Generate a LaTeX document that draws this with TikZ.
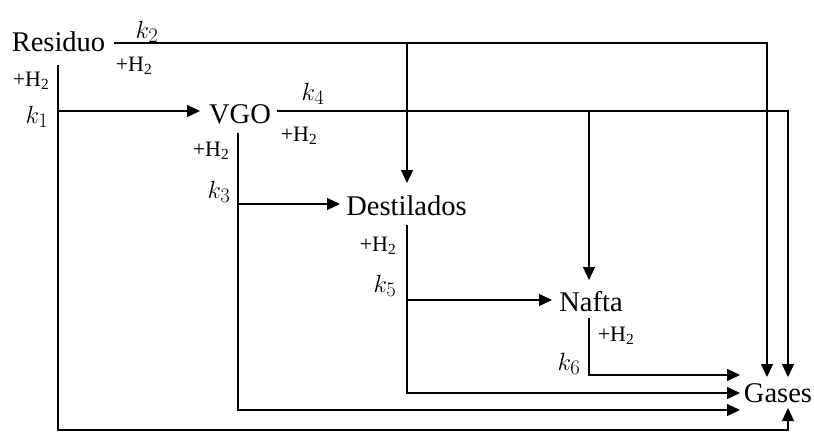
\documentclass[tikz,border=0pt]{standalone}
\usepackage{fontspec}
\setmainfont{Liberation Serif}
\usetikzlibrary{arrows.meta}
\begin{document}
\begin{tikzpicture}[x=1pt,y=-1pt,line width=1.2pt,
  arr/.style={-{Triangle[length=13pt,width=12pt]}},
  big/.style={font=\fontsize{28.5}{32}\selectfont,inner sep=0,anchor=base},
  hh/.style={font=\fontsize{22}{24}\selectfont,inner sep=0,anchor=base},
  kk/.style={font=\fontsize{28}{30}\selectfont,inner sep=0,anchor=base}]
\useasboundingbox (0,0) rectangle (814,432);
% species
\node[big] (res) at (58.5,51) {Residuo};
\node[big] (vgo) at (240,123) {VGO};
\node[big] (dest) at (406.5,215) {Destilados};
\node[big] (naf) at (591,311) {Nafta};
\node[big] (gas) at (778,402) {Gases};
% labels
\node[kk] (k2) at (147,38) {$k_2$};
\node[hh] (h2a) at (134,71) {+H\textsubscript{2}};
\node[hh] (h1) at (31,86) {+H\textsubscript{2}};
\node[kk] (k1) at (37,123) {$k_1$};
\node[kk] (k4) at (313,100) {$k_4$};
\node[hh] (h4) at (299,141) {+H\textsubscript{2}};
\node[hh] (h3) at (211,156) {+H\textsubscript{2}};
\node[kk] (k3) at (219,198) {$k_3$};
\node[hh] (h5) at (378,251) {+H\textsubscript{2}};
\node[kk] (k5) at (385,292) {$k_5$};
\node[hh] (h6) at (616,341) {+H\textsubscript{2}};
\node[kk] (k6) at (569,370) {$k_6$};
% coordinates
\coordinate (rs) at (114,43);
\coordinate (rc) at (407,43);
\coordinate (rr) at (767,43);
\coordinate (dt) at (407,183);
\coordinate (gt1) at (767,377);
\coordinate (rv) at (58,65);
\coordinate (r1) at (58,111);
\coordinate (vl) at (200,111);
\coordinate (vs) at (277,111);
\coordinate (vc) at (589,111);
\coordinate (vr) at (788,111);
\coordinate (nt) at (589,280);
\coordinate (gt2) at (788,377);
\coordinate (vv) at (238,133);
\coordinate (v3) at (238,204);
\coordinate (dl) at (340,204);
\coordinate (dv) at (407,225);
\coordinate (d5) at (407,300);
\coordinate (nl) at (552,300);
\coordinate (nv) at (589,318);
\coordinate (gl1) at (740,375);
\coordinate (gl2) at (740,393);
\coordinate (gl3) at (740,410);
\coordinate (gb) at (788,408);
\coordinate (bl) at (58,430);
% connectors
\draw[arr] (rs) -- (rr) -- (gt1);
\draw[arr] (rc) -- (dt);
\draw[arr] (rv) -- (bl) -| (gb);
\draw[arr] (r1) -- (vl);
\draw[arr] (vs) -- (vr) -- (gt2);
\draw[arr] (vc) -- (nt);
\draw[arr] (vv) |- (gl3);
\draw[arr] (v3) -- (dl);
\draw[arr] (dv) |- (gl2);
\draw[arr] (d5) -- (nl);
\draw[arr] (nv) |- (gl1);
\end{tikzpicture}
\end{document}
